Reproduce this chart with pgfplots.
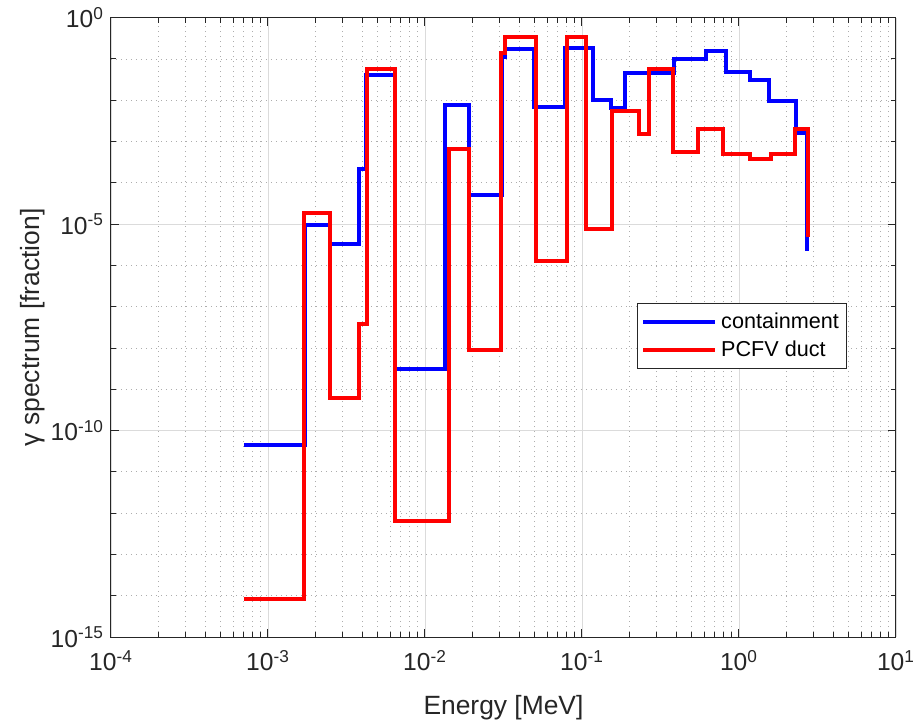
\documentclass[border=0pt]{standalone}
\usepackage{fontspec}
\setmainfont{Liberation Sans}
\usepackage{pgfplots}
\pgfplotsset{compat=1.18}
\usepackage{pgfplotstable}

% energy group lower edges [MeV] and fractions, stairs style
\pgfplotstableread{
E        f
7.01e-4  4.50e-11
1.710e-3 9.46e-6
2.490e-3 3.29e-6
3.783e-3 2.12e-4
4.215e-3 4.15e-2
6.422e-3 3.18e-9
1.334e-2 7.84e-3
1.909e-2 5.00e-5
3.092e-2 0.111
3.230e-2 0.173
4.935e-2 6.75e-3
7.844e-2 0.189
0.1178   0.01035
0.1532   6.53e-3
0.1867   0.0464
0.3850   0.1009
0.6145   0.153
0.8292   0.0472
1.173    0.0302
1.548    9.79e-3
2.298    1.63e-3
2.722    2.23e-6
}\containment

\pgfplotstableread{
E        f
7.01e-4  8.2e-15
1.698e-3 1.84e-5
2.490e-3 6.01e-10
3.783e-3 3.87e-8
4.252e-3 0.0569
6.44e-3  6.38e-13
1.425e-2 6.44e-4
1.909e-2 9.14e-9
3.047e-2 0.1384
3.254e-2 0.348
5.059e-2 1.30e-6
8.054e-2 0.348
0.1056   7.71e-6
0.1550   5.62e-3
0.2291   1.51e-3
0.2679   0.0557
0.3783   5.67e-4
0.5508   2.03e-3
0.7937   4.88e-4
1.173    3.70e-4
1.601    4.88e-4
2.264    2.03e-3
2.750    4.86e-6
}\duct

\begin{document}
\begin{tikzpicture}
\begin{axis}[
  scale only axis, width=392.5pt, height=309.7pt,
  xmode=log, ymode=log,
  xmin=1e-4, xmax=10, ymin=1e-15, ymax=1,
  xtick={1e-4,1e-3,1e-2,1e-1,1,10},
  xticklabels={10\textsuperscript{-4},10\textsuperscript{-3},10\textsuperscript{-2},10\textsuperscript{-1},10\textsuperscript{0},10\textsuperscript{1}},
  minor xtick={2e-4,3e-4,4e-4,5e-4,6e-4,7e-4,8e-4,9e-4,
               2e-3,3e-3,4e-3,5e-3,6e-3,7e-3,8e-3,9e-3,
               2e-2,3e-2,4e-2,5e-2,6e-2,7e-2,8e-2,9e-2,
               0.2,0.3,0.4,0.5,0.6,0.7,0.8,0.9,
               2,3,4,5,6,7,8,9},
  ytick={1e-15,1e-10,1e-5,1},
  yticklabels={10\textsuperscript{-15},10\textsuperscript{-10},10\textsuperscript{-5},10\textsuperscript{0}},
  minor ytick={1e-14,1e-13,1e-12,1e-11,1e-9,1e-8,1e-7,1e-6,1e-4,1e-3,1e-2,1e-1},
  grid=both,
  major grid style={black!14, line width=0.4pt},
  minor grid style={black!32, line width=0.45pt, dash pattern=on 0.5pt off 2pt},
  axis line style={black!85, line width=0.5pt},
  tick style={black!85, line width=0.5pt},
  tick align=inside,
  major tick length=4pt, minor tick length=2.5pt,
  tick label style={font=\fontsize{12.3}{14}\selectfont, text=black!85},
  xticklabel style={yshift=-3pt},
  label style={font=\fontsize{13.2}{15}\selectfont, text=black!85},
  xlabel={Energy [MeV]},
  ylabel={γ spectrum [fraction]},
  xlabel style={yshift=-5pt},
  ylabel style={yshift=-4pt},
  legend style={at={(0.6697,0.5388)}, anchor=north west, draw=black!85,
    line width=0.5pt, fill=white, font=\fontsize{10.8}{13}\selectfont,
    inner xsep=2pt, inner ysep=2.5pt, row sep=0.5pt},
  legend cell align=left,
  legend image code/.code={\draw[#1, line width=2pt] (0pt,0pt) -- (36pt,0pt);},
]
\addplot[const plot, blue, line width=2pt] table[x=E, y=f] {\containment};
\addlegendentry{containment}
\addplot[const plot, red, line width=2pt] table[x=E, y=f] {\duct};
\addlegendentry{PCFV duct}
\end{axis}
\pgfresetboundingbox
\path[use as bounding box] ([xshift=-55.5pt,yshift=-42pt]current axis.south west)
  rectangle ([xshift=10pt,yshift=8.85pt]current axis.north east);
\end{tikzpicture}
\end{document}
